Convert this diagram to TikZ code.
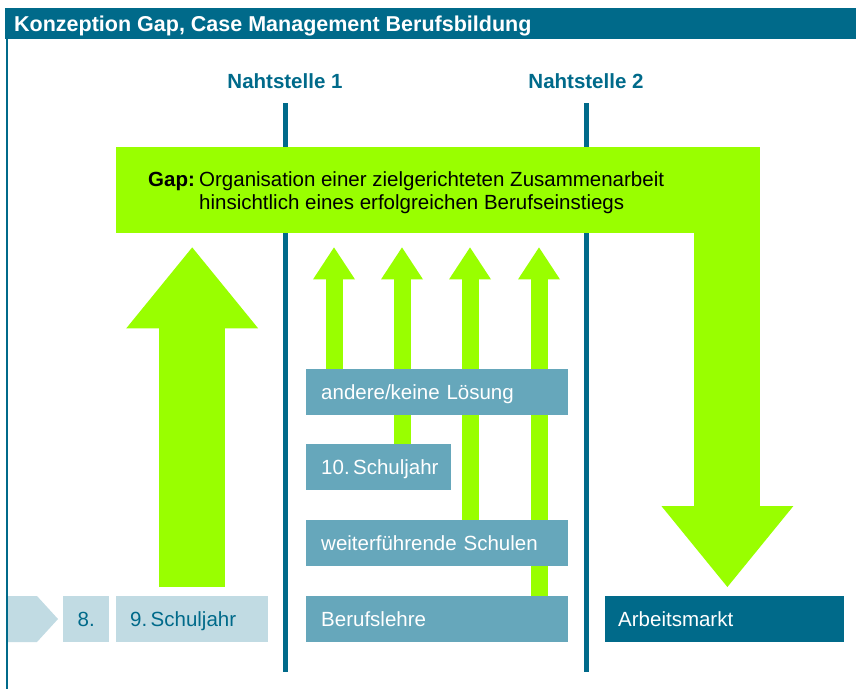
\documentclass[tikz,border=0pt]{standalone}
\usepackage{fontspec}
\setmainfont{Liberation Sans}
\usetikzlibrary{arrows.meta}
\definecolor{nahtblau}{HTML}{006A8A}
\definecolor{boxblau}{HTML}{66A7BB}
\definecolor{hellblau}{HTML}{C1DBE3}
\definecolor{gapgruen}{HTML}{99FF00}
\pgfdeclarelayer{hinten}
\pgfsetlayers{hinten,main}

\begin{document}
\begin{tikzpicture}[x=1pt, y=-1pt,
    txt/.style={font=\fontsize{20.5}{23.5}\selectfont},
    naht/.style={txt, font=\fontsize{20.5}{23.5}\selectfont\bfseries, text=nahtblau, anchor=base, inner sep=0pt},
    seam/.style={draw=nahtblau, line width=5pt},
    stufe/.style={txt, fill=boxblau, text=white, anchor=north west, align=left,
        text width=#1, inner xsep=15pt, inner ysep=0pt, minimum height=46pt,
        text height=14.6pt, text depth=0pt},
    pfeil/.style={draw=gapgruen, line width=17pt,
        -{Triangle[width=42pt, length=32pt, line width=0pt]}, shorten >=14pt},
    grosspfeil/.style={draw=gapgruen, line width=66pt,
        -{Triangle[width=132pt, length=81pt, line width=0pt]}}]
    \useasboundingbox (0,0) rectangle (856,689);

    % Rahmen und Titel
    \fill[nahtblau] (5,8) rectangle (856,39);
    \draw[nahtblau, line width=2pt] (7,8) -- (7,689);
    \node[txt, font=\fontsize{21.5}{24}\selectfont\bfseries, text=white, anchor=base west, inner sep=0pt]
        (titel) at (14,31) {Konzeption Gap, Case Management Berufsbildung};

    % Nahtstellen
    \node[naht] (naht1) at (285,88) {Nahtstelle 1};
    \node[naht] (naht2) at (586,88) {Nahtstelle 2};
    \begin{pgfonlayer}{hinten}
        \draw[seam] (naht1.base) ++(0,15) -- ++(0,569);
        \draw[seam] (naht2.base) ++(0,15) -- ++(0,569);
    \end{pgfonlayer}

    % Gap
    \node[fill=gapgruen, anchor=north west, inner sep=0pt, minimum width=644pt, minimum height=86pt]
        (gap) at (116,147) {};
    \node[txt, font=\fontsize{20.5}{23.5}\selectfont\bfseries, anchor=base west, inner sep=0pt]
        (gaplabel) at (148,186) {Gap:};
    % base liegt hier auf der letzten Zeile
    \node[txt, anchor=base west, inner sep=0pt, align=left] (gaptext) at (199,209.5)
        {Organisation einer zielgerichteten Zusammenarbeit\\hinsichtlich eines erfolgreichen Berufseinstiegs};

    % Schuljahre links
    \fill[hellblau] (8,596) -- (37,596) -- (58,619) -- (37,642) -- (8,642) -- cycle;
    \node[stufe=46pt, fill=hellblau, text=nahtblau, align=center, inner xsep=0pt] (kl8) at (63,596) {8.};
    \node[stufe=124pt, fill=hellblau, text=nahtblau, inner xsep=14pt] (schul9) at (116,596) {9.\,Schuljahr};

    % Anschlussloesungen
    \node[stufe=232pt] (andere) at (306,369) {andere/keine Lösung};
    \node[stufe=115pt] (schul10) at (306,444) {10.\,Schuljahr};
    \node[stufe=232pt] (weiter) at (306,520) {weiterführende Schulen};
    \node[stufe=232pt] (lehre) at (306,596) {Berufslehre};
    \node[stufe=213pt, fill=nahtblau, inner xsep=13pt] (arbeit) at (605,596) {Arbeitsmarkt};

    % Pfeile
    \begin{pgfonlayer}{hinten}
        \foreach \x/\von in {334/andere, 402/schul10, 470/weiter, 539/lehre}
            \draw[pfeil] (\x,0 |- \von.north) -- (\x,0 |- gap.south);
        \draw[grosspfeil, shorten <=9pt, shorten >=14pt] (schul9.north) -- (schul9.north |- gap.south);
        \draw[grosspfeil, shorten >=9pt] ([xshift=-33pt]gap.east) -- ([xshift=-33pt]gap.east |- arbeit.north);
    \end{pgfonlayer}
\end{tikzpicture}
\end{document}
